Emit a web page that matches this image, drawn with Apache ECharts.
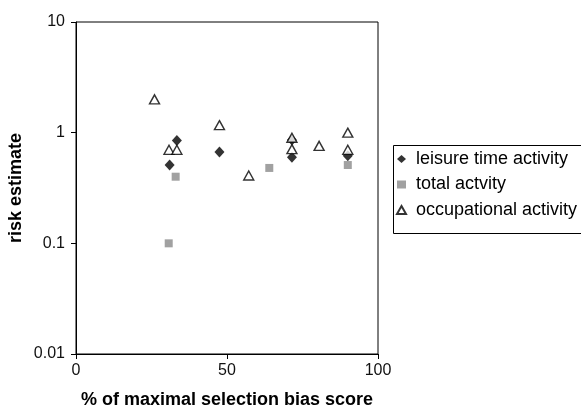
<!DOCTYPE html>
<html>
<head>
<meta charset="utf-8">
<script src="https://cdn.jsdelivr.net/npm/echarts@6/dist/echarts.min.js"></script>
<style>
html,body{margin:0;padding:0;background:#fff;}
#c{width:581px;height:410px;}
</style>
</head>
<body>
<div id="c"></div>
<script>
// Data
const leisureX = [31, 33.4, 47.5, 71.5, 71.5, 90];
const leisureY = [0.51, 0.85, 0.67, 0.86, 0.60, 0.62];
const totalX = [30.7, 33, 64, 90];
const totalY = [0.10, 0.40, 0.48, 0.51];
const occupX = [26, 30.8, 33.4, 47.5, 57.2, 71.5, 71.5, 80.5, 90, 90];
const occupY = [2.0, 0.70, 0.70, 1.17, 0.41, 0.90, 0.71, 0.76, 1.0, 0.70];
const seriesNames = ['leisure time activity', 'total actvity', 'occupational activity'];
const xTicks = [0, 50, 100];
const yTicks = [0.01, 0.1, 1, 10];
const xTitle = '% of maximal selection bias score';
const yTitle = 'risk estimate';

function pairs(xs, ys) { return xs.map((x, i) => [x, ys[i]]); }

const FONT = '"Liberation Sans", Arial, sans-serif';
const chart = echarts.init(document.getElementById('c'), null, {renderer: 'canvas'});
chart.setOption({
  animation: false,
  backgroundColor: '#ffffff',
  grid: {
    left: 76, right: 203, top: 22, bottom: 56,
    containLabel: false, outerBoundsMode: 'none',
    show: true, borderColor: '#000', borderWidth: 1, backgroundColor: 'transparent'
  },
  xAxis: {
    type: 'value',
    min: xTicks[0], max: xTicks[xTicks.length - 1], interval: xTicks[1] - xTicks[0],
    name: xTitle, nameLocation: 'middle', nameGap: 37, nameMoveOverlap: false,
    nameTextStyle: {fontFamily: FONT, fontSize: 18, fontWeight: 'bold', color: '#000'},
    axisLine: {show: true, lineStyle: {color: '#000', width: 1}},
    axisTick: {show: true, length: 5, lineStyle: {color: '#000'}},
    axisLabel: {fontFamily: FONT, fontSize: 16, color: '#111', margin: 9},
    splitLine: {show: false}
  },
  yAxis: {
    type: 'log', logBase: 10,
    min: yTicks[0], max: yTicks[yTicks.length - 1],
    name: yTitle, nameLocation: 'middle', nameGap: 51, nameRotate: 90, nameMoveOverlap: false,
    nameTextStyle: {fontFamily: FONT, fontSize: 18, fontWeight: 'bold', color: '#000'},
    axisLine: {show: true, lineStyle: {color: '#000', width: 1}},
    axisTick: {show: true, length: 5, lineStyle: {color: '#000'}},
    minorTick: {show: false},
    axisLabel: {
      fontFamily: FONT, fontSize: 16, color: '#111', margin: 11,
      formatter: v => String(+(+v).toPrecision(3))
    },
    splitLine: {show: false}
  },
  legend: {
    orient: 'vertical', left: 396, top: 150, padding: 0,
    itemWidth: 9, itemHeight: 8, itemGap: 7.5,
    textStyle: {fontFamily: FONT, fontSize: 18, color: '#000', lineHeight: 18, padding: [0, 0, 0, 5]},
    data: seriesNames
  },
  graphic: [{
    type: 'rect', left: 391, top: 143, z: 100,
    shape: {width: 300, height: 88},
    style: {fill: 'none', stroke: '#000', lineWidth: 1}
  }],
  series: [
    {
      name: seriesNames[0], type: 'scatter', symbol: 'diamond', symbolSize: [10, 11],
      itemStyle: {color: '#000'}, data: pairs(leisureX, leisureY), z: 2
    },
    {
      name: seriesNames[1], type: 'scatter', symbol: 'rect', symbolSize: 8,
      itemStyle: {color: '#8a8a8a'}, data: pairs(totalX, totalY), z: 2
    },
    {
      name: seriesNames[2], type: 'scatter', symbol: 'triangle', symbolSize: [10, 9],
      itemStyle: {color: '#fff', borderColor: '#000', borderWidth: 1.4}, data: pairs(occupX, occupY), z: 3
    }
  ]
});
</script>
</body>
</html>
